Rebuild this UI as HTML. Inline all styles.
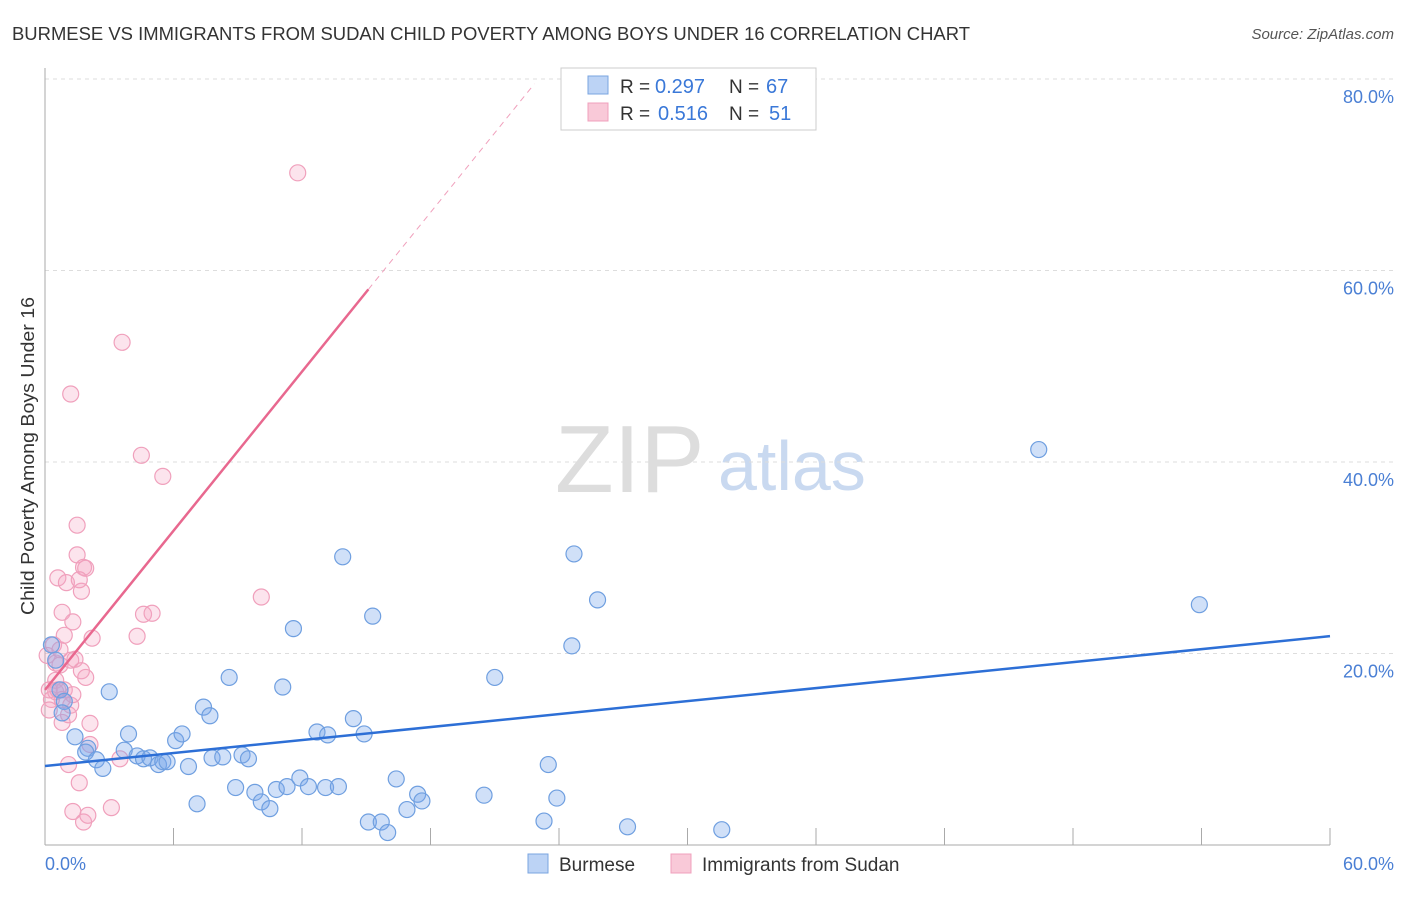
<!DOCTYPE html>
<html><head><meta charset="utf-8"><style>
body{margin:0;background:#fff;font-family:"Liberation Sans",sans-serif;}
svg text{font-family:"Liberation Sans",sans-serif;}
</style></head><body>
<svg id="chart" width="1406" height="892" viewBox="0 0 1406 892" xmlns="http://www.w3.org/2000/svg">
<text x="12" y="40" font-size="18" fill="#333" textLength="958" lengthAdjust="spacingAndGlyphs">BURMESE VS IMMIGRANTS FROM SUDAN CHILD POVERTY AMONG BOYS UNDER 16 CORRELATION CHART</text>
<text x="1394" y="39" font-size="15" fill="#555" text-anchor="end" font-style="italic">Source: ZipAtlas.com</text>
<text x="555" y="492" font-size="96" fill="#ddd" font-family="Liberation Serif">ZIP</text>
<text x="718" y="490" font-size="70" fill="#c9d9f0">atlas</text>
<g id="grid"></g>
<g id="axes"></g>
<g id="pts"></g>
<g id="trend"></g>
<text transform="translate(34,456) rotate(-90)" font-size="18" fill="#333" text-anchor="middle" textLength="318" lengthAdjust="spacingAndGlyphs">Child Poverty Among Boys Under 16</text>
<text x="45" y="870" font-size="18" fill="#4a7fd4">0.0%</text>
<text x="1394" y="870" font-size="18" fill="#4a7fd4" text-anchor="end">60.0%</text>
<g>
<rect x="561" y="68" width="255" height="62" fill="#fff" stroke="#ccc"/>
<rect x="588" y="76" width="20" height="18" fill="#bcd3f5" stroke="#7aa4e0"/>
<rect x="588" y="103" width="20" height="18" fill="#f9c9d8" stroke="#f0a0bc"/>
<text x="620" y="93" font-size="19" fill="#333">R =</text>
<text x="655" y="93" font-size="20" fill="#3a78d8">0.297</text>
<text x="729" y="93" font-size="19" fill="#333">N =</text>
<text x="766" y="93" font-size="20" fill="#3a78d8">67</text>
<text x="620" y="120" font-size="19" fill="#333">R =</text>
<text x="658" y="120" font-size="20" fill="#3a78d8">0.516</text>
<text x="729" y="120" font-size="19" fill="#333">N =</text>
<text x="769" y="120" font-size="20" fill="#3a78d8">51</text>
</g>
<g>
<rect x="528" y="854" width="20" height="19" fill="#bcd3f5" stroke="#7aa4e0"/>
<text x="559" y="871" font-size="19" fill="#333">Burmese</text>
<rect x="671" y="854" width="20" height="19" fill="#f9c9d8" stroke="#f0a0bc"/>
<text x="702" y="871" font-size="19" fill="#333">Immigrants from Sudan</text>
</g>
</svg>
<script>
const yTicks=[20,40,60,80];
const yTickLabels=["20.0%","40.0%","60.0%","80.0%"];
const xTicks=[0,6,12,18,24,30,36,42,48,54,60];
const burmeseX=[0.3,0.5,0.7,0.9,0.8,1.4,2.0,1.9,2.4,2.7,3.0,3.7,3.9,4.3,4.6,4.9,5.3,5.5,5.7,6.1,6.4,6.7,7.1,7.4,7.7,7.8,8.3,8.6,8.9,9.2,9.5,9.8,10.1,10.5,10.8,11.1,11.3,11.6,11.9,12.3,12.7,13.1,13.2,13.7,13.9,14.4,14.9,15.1,15.3,15.7,16.0,16.4,16.9,17.4,17.6,20.5,21.0,23.3,23.5,23.9,24.6,24.7,25.8,27.2,31.6,46.4,53.9];
const burmeseY=[20.9,19.3,16.2,15.0,13.8,11.3,10.1,9.7,8.9,8.0,16.0,9.9,11.6,9.3,9.0,9.1,8.4,8.7,8.7,10.9,11.6,8.2,4.3,14.4,13.5,9.1,9.2,17.5,6.0,9.4,9.0,5.5,4.5,3.8,5.8,16.5,6.1,22.6,7.0,6.1,11.8,6.0,11.5,6.1,30.1,13.2,11.6,2.4,23.9,2.4,1.3,6.9,3.7,5.3,4.6,5.2,17.5,2.5,8.4,4.9,20.8,30.4,25.6,1.9,1.6,41.3,25.1];
const sudanX=[0.1,0.2,0.3,0.5,0.5,0.5,0.6,0.7,0.8,0.8,1.0,1.1,1.1,1.2,1.2,1.2,1.3,1.3,1.4,1.5,1.5,1.6,1.7,1.7,1.8,1.8,1.9,1.9,2.0,2.1,2.2,2.1,3.1,3.6,4.3,4.5,4.6,5.0,5.5,10.1,11.8,3.5,0.4,0.7,0.9,0.6,1.3,0.2,0.9,1.6,0.8];
const sudanY=[19.8,16.2,15.2,17.2,19.0,16.0,27.9,18.8,24.3,12.8,27.4,13.6,8.4,19.3,14.6,47.1,23.3,3.5,19.4,30.3,33.4,6.5,26.5,18.2,2.4,29.0,28.9,17.5,3.1,12.7,21.6,10.5,3.9,52.5,21.8,40.7,24.1,24.2,38.5,25.9,70.2,9.0,20.9,20.4,16.2,16.2,15.7,14.1,21.9,27.7,15.2];
const burmeseTrend=[8.25,0.226];
const sudanTrend=[16.2,2.77];
const NS="http://www.w3.org/2000/svg";
const X0=45,X1=1330,Y0=845,PY=191.5/20;
const xs=v=>X0+v/60*(X1-X0), ys=v=>Y0-v*PY;
function mk(tag,attrs,parent){const e=document.createElementNS(NS,tag);for(const k in attrs)e.setAttribute(k,attrs[k]);parent.appendChild(e);return e;}
const grid=document.getElementById('grid'),axes=document.getElementById('axes'),pts=document.getElementById('pts'),trend=document.getElementById('trend');
yTicks.forEach((t,i)=>{
 const l=mk('line',{x1:X0,x2:1394,y1:ys(t),y2:ys(t),stroke:'#ddd','stroke-dasharray':'4,4'},grid);
 
 
 const tx=mk('text',{x:1394,y:ys(t)+24,'font-size':18,fill:'#4a7fd4','text-anchor':'end'},grid);
 tx.textContent=yTickLabels[i];
 
 
});
const ax=mk('line',{x1:X0,x2:X0,y1:68,y2:Y0,stroke:'#aaa'},axes);


const bx=mk('line',{x1:X0,x2:X1,y1:Y0,y2:Y0,stroke:'#aaa'},axes);


xTicks.forEach(t=>{
 const l=mk('line',{x1:xs(t),x2:xs(t),y1:Y0-17,y2:Y0,stroke:'#aaa'},axes);
 
 
});
function drawPts(X,Y,fill,stroke,name){X.forEach((v,i)=>{
 const c=mk('circle',{cx:xs(v),cy:ys(Y[i]),r:8,fill:fill,stroke:stroke,'stroke-width':1.2},pts);
 
 
});}
drawPts(sudanX,sudanY,'rgba(245,165,195,0.3)','#f0a0bc','sudan-point');
drawPts(burmeseX,burmeseY,'rgba(120,165,235,0.35)','#6f9fe0','burmese-point');
const [ba,bb]=burmeseTrend;
const bl=mk('line',{x1:xs(0),y1:ys(ba),x2:xs(60),y2:ys(ba+bb*60),stroke:'#2d6fd6','stroke-width':2.5},trend);


const [sa,sb]=sudanTrend;
const xe=15.1, xd=(79.5-sa)/sb;
const sl=mk('line',{x1:xs(0),y1:ys(sa),x2:xs(xe),y2:ys(sa+sb*xe),stroke:'#e8688f','stroke-width':2.5},trend);


const sd=mk('line',{x1:xs(xe),y1:ys(sa+sb*xe),x2:xs(xd),y2:ys(sa+sb*xd),stroke:'#f0a0bc','stroke-width':1,'stroke-dasharray':'6,5'},trend);


</script>
</body></html>
